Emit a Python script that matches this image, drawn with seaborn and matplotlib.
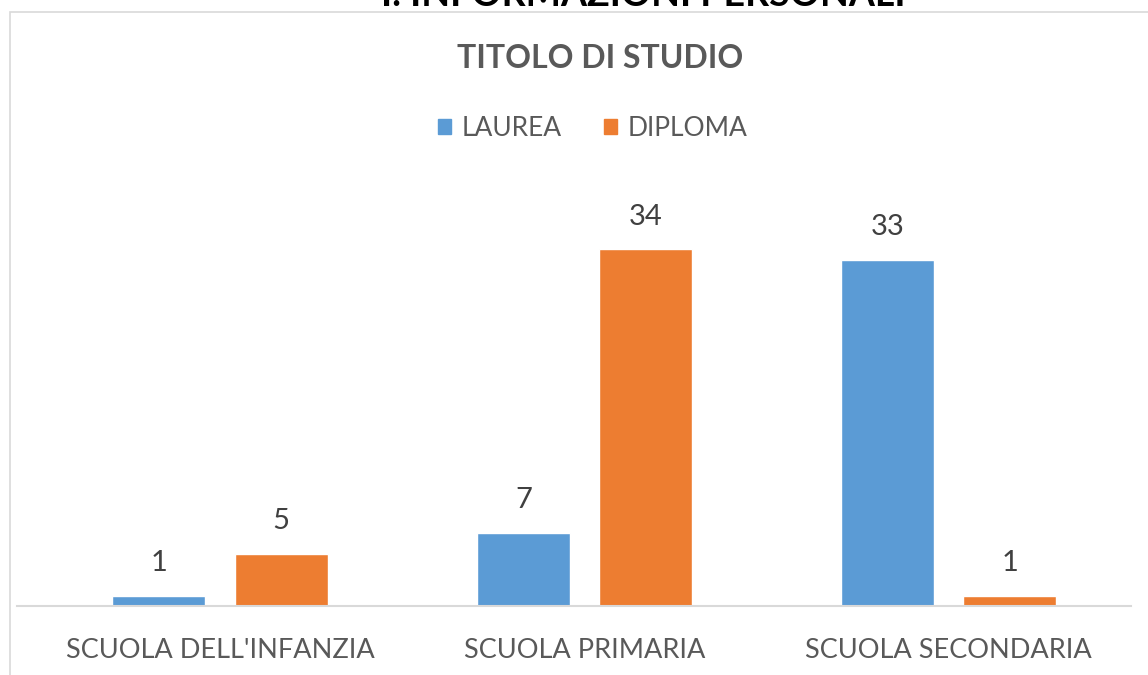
import pandas as pd
import matplotlib
matplotlib.use("Agg")
import matplotlib.pyplot as plt
from matplotlib.patches import Rectangle
import seaborn as sns

# dati
categorie = ["SCUOLA DELL'INFANZIA", "SCUOLA PRIMARIA", "SCUOLA SECONDARIA"]
serie = ["LAUREA", "DIPLOMA"]
laurea = [1, 7, 33]
diploma = [5, 34, 1]
colori = ["#5B9BD5", "#ED7D31"]

df = pd.DataFrame({
    "categoria": categorie * 2,
    "serie": [serie[0]] * 3 + [serie[1]] * 3,
    "valore": laurea + diploma,
})

sns.set_theme(style="white")
plt.rcParams["font.family"] = ["Lato", "DejaVu Sans"]

W, H = 1148, 675
fig = plt.figure(figsize=(W / 100, H / 100), dpi=100)

# cornice grigia del grafico (tagliata a destra e in basso)
fig.patches.append(Rectangle((10 / W, -0.1), 1.2, 1 - 12 / H + 0.1,
                             transform=fig.transFigure, fill=False,
                             edgecolor="#D9D9D9", linewidth=1.2))

# titolo della sezione, tagliato dal bordo superiore
fig.text(643 / W, 1 - 6 / H, "I. INFORMAZIONI PERSONALI", ha="center",
         va="baseline", fontsize=27, fontweight="bold", color="black")

ax = fig.add_axes([17 / W, 1 - 606 / H, (1131 - 17) / W, (606 - 180) / H])
sns.barplot(data=df, x="categoria", y="valore", hue="serie",
            hue_order=serie, palette=colori, width=0.67, gap=0.238,
            saturation=1, legend=False, ax=ax)

ax.set_xlim(-0.557, 2.5)
ax.set_ylim(0, (606 - 180) / 10.5)
for c in ax.containers:
    ax.bar_label(c, padding=14, fontsize=21, color="#404040")

sns.despine(ax=ax, left=True)
ax.spines["bottom"].set_color("#D9D9D9")
ax.spines["bottom"].set_linewidth(1.5)
ax.set_yticks([])
ax.set_xlabel("")
ax.set_ylabel("")
ax.tick_params(axis="x", length=0, pad=23, labelsize=19.5, labelcolor="#595959")

fig.text(600 / W, 1 - 58 / H, "TITOLO DI STUDIO", ha="center", va="center",
         fontsize=23, fontweight="bold", color="#595959")

handles = [Rectangle((0, 0), 1, 1, color=col) for col in colori]
fig.legend(handles, serie, loc="center", bbox_to_anchor=(593 / W, 1 - 128 / H),
           ncol=2, frameon=False, fontsize=19, labelcolor="#595959",
           handlelength=0.5, handleheight=0.5, handletextpad=0.4,
           columnspacing=1.6)

fig.savefig("out.png", dpi=100)
